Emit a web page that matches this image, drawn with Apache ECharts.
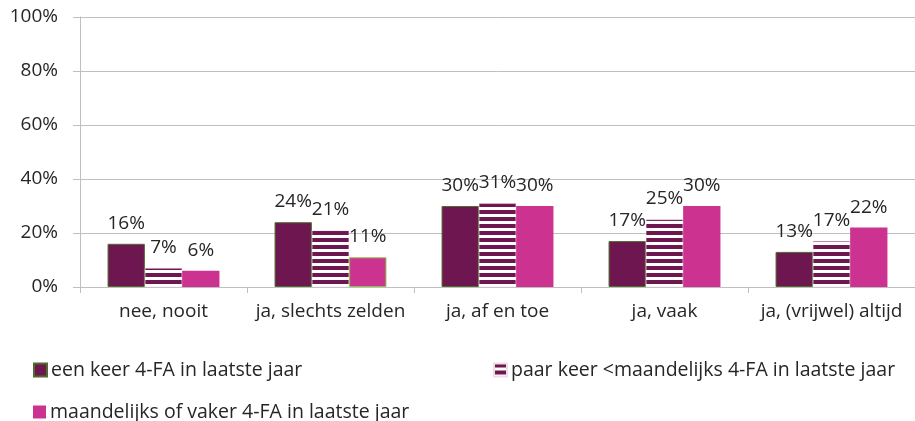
<!DOCTYPE html>
<html>
<head>
<meta charset="utf-8">
<script src="https://cdn.jsdelivr.net/npm/echarts@6/dist/echarts.min.js"></script>
<style>
  html, body { margin: 0; padding: 0; background: #fff; }
  #chart { width: 915px; height: 421px; }
</style>
</head>
<body>
<div id="chart"></div>
<script>
const categories = ['nee, nooit', 'ja, slechts zelden', 'ja, af en toe', 'ja, vaak', 'ja, (vrijwel) altijd'];
const seriesNames = [
  'een keer 4-FA in laatste jaar',
  'paar keer <maandelijks 4-FA in laatste jaar',
  'maandelijks of vaker 4-FA in laatste jaar'
];
const eenKeer = [16, 24, 30, 17, 13];
const paarKeer = [7, 21, 31, 25, 17];
const maandelijks = [6, 11, 30, 30, 22];
const yTicks = [0, 20, 40, 60, 80, 100];

const DARK = '#6e1650';
const PINK = '#cc3391';
const FONT = '"Open Sans", sans-serif';
const TEXT = '#262626';
const FS = 19;

// horizontal stripe fill for the middle series
function stripePattern() {
  const c = document.createElement('canvas');
  c.width = 8; c.height = 7;
  const ctx = c.getContext('2d');
  ctx.fillStyle = '#ffffff';
  ctx.fillRect(0, 0, 8, 7);
  ctx.fillStyle = DARK;
  ctx.fillRect(0, 0, 8, 4);
  return c;
}
const stripes = { image: stripePattern(), repeat: 'repeat' };

const labelStyle = {
  show: true,
  position: 'top',
  distance: 11,
  fontFamily: FONT,
  fontSize: FS,
  color: TEXT,
  formatter: p => p.value + '%'
};

const chart = echarts.init(document.getElementById('chart'), null, { renderer: 'canvas' });

const legendBase = {
  orient: 'horizontal',
  itemWidth: 13,
  itemHeight: 13,
  itemGap: 6,
  icon: 'rect',
  textStyle: { fontFamily: FONT, fontSize: 19.5, color: TEXT, padding: [0, 0, 0, -1] },
  selectedMode: false
};

chart.setOption({
  animation: false,
  backgroundColor: '#ffffff',
  grid: { left: 80, right: 0, top: 17, bottom: 134, containLabel: false },
  legend: [
    Object.assign({}, legendBase, { data: [seriesNames[0]], left: 28, top: 355 }),
    Object.assign({}, legendBase, { data: [seriesNames[1]], left: 488, top: 355 }),
    Object.assign({}, legendBase, { data: [seriesNames[2]], left: 28, top: 397 })
  ],
  xAxis: {
    type: 'category',
    data: categories,
    boundaryGap: true,
    axisLine: { lineStyle: { color: '#bfbfbf', width: 1 } },
    axisTick: { show: true, length: 6, alignWithLabel: false, lineStyle: { color: '#bfbfbf' } },
    axisLabel: { fontFamily: FONT, fontSize: FS, color: TEXT, margin: 15, interval: 0, hideOverlap: false }
  },
  yAxis: {
    type: 'value',
    min: 0,
    max: 100,
    interval: 20,
    axisLine: { show: true, lineStyle: { color: '#bfbfbf', width: 1 } },
    axisTick: { show: true, length: 7, lineStyle: { color: '#bfbfbf' } },
    axisLabel: {
      fontFamily: FONT, fontSize: FS, color: TEXT, margin: 22,
      formatter: v => (yTicks.includes(v) ? v + '%' : '')
    },
    splitLine: { show: true, lineStyle: { color: '#bfbfbf', width: 1 } }
  },
  series: [
    {
      name: seriesNames[0],
      type: 'bar',
      data: eenKeer,
      barGap: '0%',
      barCategoryGap: '33%',
      itemStyle: { color: DARK, borderColor: '#4f6b2e', borderWidth: 1 },
      label: labelStyle
    },
    {
      name: seriesNames[1],
      type: 'bar',
      data: paarKeer,
      itemStyle: { color: stripes, borderColor: '#f2dbe8', borderWidth: 0.5 },
      label: labelStyle
    },
    {
      name: seriesNames[2],
      type: 'bar',
      data: maandelijks.map((v, i) => i === 1
        ? { value: v, itemStyle: { borderColor: '#8cc04a', borderWidth: 1 } }
        : v),
      itemStyle: { color: PINK },
      label: labelStyle
    }
  ]
});
</script>
</body>
</html>
